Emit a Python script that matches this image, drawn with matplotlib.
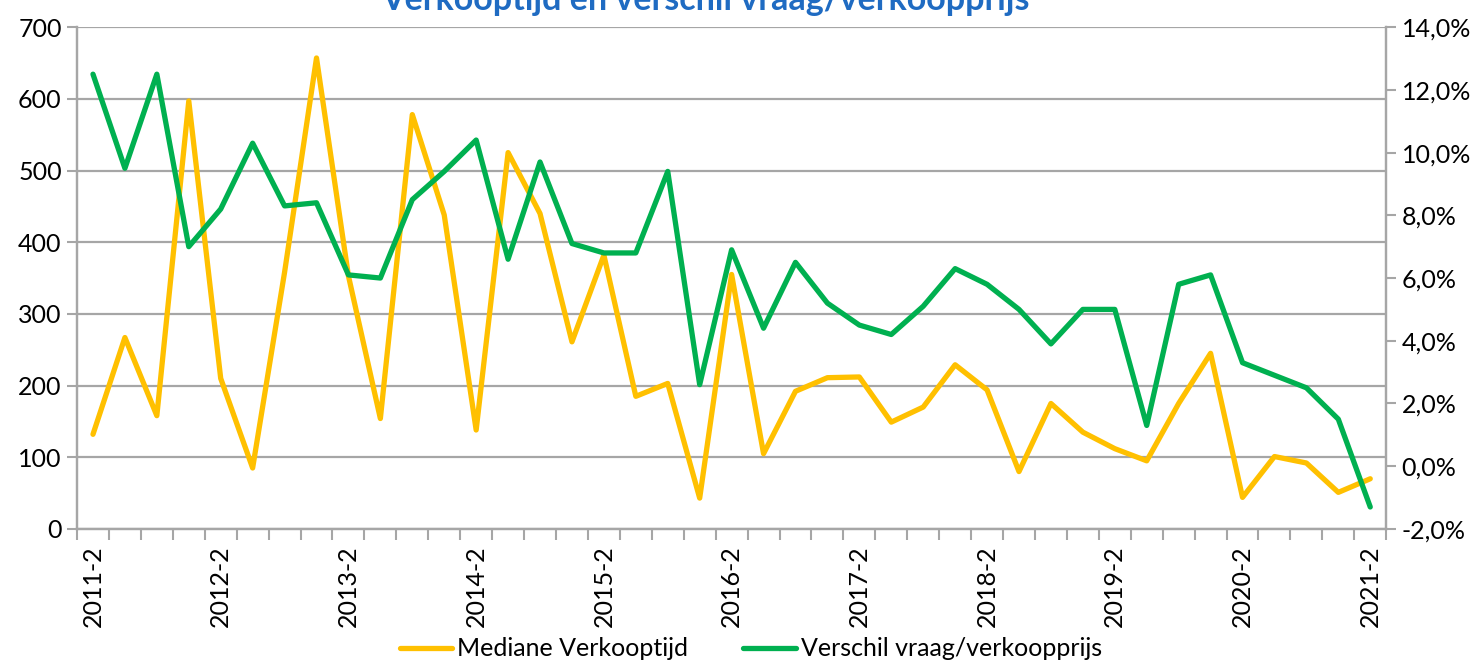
import matplotlib
matplotlib.use("Agg")
import matplotlib.pyplot as plt
from matplotlib.ticker import FuncFormatter, MultipleLocator

plt.rcParams['font.family'] = ['Lato', 'DejaVu Sans']

# kwartalen 2011-2 t/m 2021-2
kwartalen = []
for jaar in range(2011, 2022):
    for q in range(1, 5):
        kwartalen.append(f"{jaar}-{q}")
kwartalen = kwartalen[1:kwartalen.index("2021-2") + 1]

# mediane verkooptijd (dagen), linker as
verkooptijd = [132, 267, 158, 597, 210, 85, 358, 657, 353, 154,
               578, 438, 138, 525, 440, 261, 382, 185, 203, 43,
               355, 105, 192, 211, 212, 149, 170, 229, 194, 80,
               175, 135, 112, 95, 175, 245, 44, 101, 92, 51, 70]

# verschil vraag/verkoopprijs (%), rechter as
verschil = [12.5, 9.5, 12.5, 7.0, 8.2, 10.3, 8.3, 8.4, 6.1, 6.0,
            8.5, 9.4, 10.4, 6.6, 9.7, 7.1, 6.8, 6.8, 9.4, 2.6,
            6.9, 4.4, 6.5, 5.2, 4.5, 4.2, 5.1, 6.3, 5.8, 5.0,
            3.9, 5.0, 5.0, 1.3, 5.8, 6.1, 3.3, 2.9, 2.5, 1.5, -1.3]

geel = '#FFC000'
groen = '#00B050'
grijs = '#A6A6A6'

fig = plt.figure(figsize=(14.81, 6.62), dpi=100)
ax = fig.add_axes([0.052, 0.201, 0.884, 0.758])
ax2 = ax.twinx()

x = list(range(len(kwartalen)))
l1, = ax.plot(x, verkooptijd, color=geel, lw=3.8, solid_joinstyle='round',
              solid_capstyle='round', label='Mediane Verkooptijd', zorder=3)
l2, = ax2.plot(x, verschil, color=groen, lw=3.8, solid_joinstyle='round',
               solid_capstyle='round', label='Verschil vraag/verkoopprijs', zorder=3)

ax.set_xlim(-0.5, len(kwartalen) - 0.5)
ax.set_ylim(0, 700)
ax2.set_ylim(-2, 14)
ax.yaxis.set_major_locator(MultipleLocator(100))
ax2.yaxis.set_major_locator(MultipleLocator(2))
ax2.yaxis.set_major_formatter(FuncFormatter(lambda v, p: f"{v:.1f}%".replace('.', ',')))

# labels alleen bij elk 2e kwartaal
lab_pos = [i for i, k in enumerate(kwartalen) if k.endswith('-2')]
ax.set_xticks(lab_pos)
ax.set_xticklabels([kwartalen[i] for i in lab_pos], rotation=90)
ax.set_xticks([i - 0.5 for i in range(len(kwartalen) + 1)], minor=True)
ax.tick_params(axis='x', which='major', length=0, pad=12, labelsize=18)
ax.tick_params(axis='x', which='minor', length=8, width=1.5, color=grijs)
ax.tick_params(axis='y', length=7, width=1.5, color=grijs, labelsize=18, pad=4)
ax2.tick_params(axis='y', length=7, width=1.5, color=grijs, labelsize=18, pad=4)

ax.yaxis.grid(True, color=grijs, lw=1.6)
ax.set_axisbelow(True)
for a in (ax, ax2):
    for s in a.spines.values():
        s.set_color(grijs)
        s.set_linewidth(1.6)
    a.spines['top'].set_visible(False)

# titel valt deels buiten beeld, net als in het origineel
fig.text(0.476, 0.985, 'Verkooptijd en verschil vraag/verkoopprijs', ha='center',
         va='baseline', fontsize=24.5, fontweight='bold', color='#1F6BC2')

fig.legend(handles=[l1, l2], loc='center', bbox_to_anchor=(0.507, 0.02), ncol=2,
           frameon=False, fontsize=18, handlelength=2.1, handletextpad=0.2,
           columnspacing=2.2)

fig.savefig('out.png', dpi=100)
